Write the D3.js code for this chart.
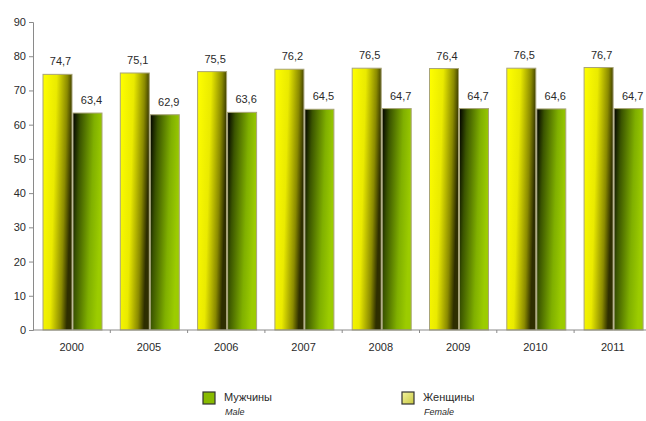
<!DOCTYPE html>
<html>
  <head>
    <meta http-equiv="Content-Type" content="text/html; charset=UTF-8">
    <script src="https://d3js.org/d3.v7.min.js"></script>
    <style type="text/css">
      body { margin: 0; background: #fff; }
      * { font-family: 'Liberation Sans', Arial, sans-serif; }
      text { fill: #2a2a2a; }
    </style>
  </head>
  <body>
    <div id="canvas"></div>
    <script type="text/javascript">
      // chart data
      var years = ['2000', '2005', '2006', '2007', '2008', '2009', '2010', '2011'];
      var female = [74.7, 75.1, 75.5, 76.2, 76.5, 76.4, 76.5, 76.7];
      var male = [63.4, 62.9, 63.6, 64.5, 64.7, 64.7, 64.6, 64.7];
      var yTicks = [0, 10, 20, 30, 40, 50, 60, 70, 80, 90];
      var seriesNames = ['Мужчины', 'Женщины'];
      var seriesSub = ['Male', 'Female'];

      var width = 646, height = 421;
      var mLeft = 33, mTop = 22, mBottom = 330;

      var svg = d3.select('#canvas').append('svg')
        .attr('width', width).attr('height', height);

      var defs = svg.append('defs');
      var fGrad = defs.append('linearGradient').attr('id', 'gFemale')
        .attr('x1', 0).attr('y1', 0).attr('x2', 1).attr('y2', 0.25);
      [[0, '#ffff00'], [0.45, '#eaea00'], [0.8, '#8a8a00'], [1, '#2e2e00']].forEach(function (s) {
        fGrad.append('stop').attr('offset', s[0]).attr('stop-color', s[1]);
      });
      var mGrad = defs.append('linearGradient').attr('id', 'gMale')
        .attr('x1', 0).attr('y1', 0).attr('x2', 1).attr('y2', 0.25);
      [[0, '#000000'], [0.25, '#3a5400'], [0.7, '#80b000'], [1, '#9ccc00']].forEach(function (s) {
        mGrad.append('stop').attr('offset', s[0]).attr('stop-color', s[1]);
      });
      var lgF = defs.append('linearGradient').attr('id', 'lgFemale')
        .attr('x1', 0).attr('y1', 0).attr('x2', 1).attr('y2', 1);
      lgF.append('stop').attr('offset', 0).attr('stop-color', '#f4f4a0');
      lgF.append('stop').attr('offset', 1).attr('stop-color', '#c8c840');

      var step = 77.3;
      var x = d3.scaleBand().domain(years)
        .range([mLeft, mLeft + step * years.length]).paddingInner(0).paddingOuter(0);
      var y = d3.scaleLinear().domain([0, 90]).range([mBottom, mTop]);

      var barW = 29, off = 10;

      // axes
      var yAxis = d3.axisLeft(y).tickValues(yTicks).tickSize(4).tickPadding(3);
      var gy = svg.append('g').attr('transform', 'translate(' + mLeft + ',0)').call(yAxis);
      gy.select('.domain').attr('stroke', '#8a8a8a');
      gy.selectAll('.tick line').attr('stroke', '#8a8a8a');
      gy.selectAll('text').attr('font-size', 11).attr('fill', '#2a2a2a')
        .style('font-family', 'Liberation Sans, Arial, sans-serif');

      // bars
      var g = svg.selectAll('g.cat').data(years).enter().append('g').attr('class', 'cat');
      g.append('rect')
        .attr('x', function (d) { return x(d) + off; })
        .attr('y', function (d, i) { return y(female[i]); })
        .attr('width', barW)
        .attr('height', function (d, i) { return mBottom - y(female[i]); })
        .attr('fill', 'url(#gFemale)')
        .attr('stroke', '#a8a478').attr('stroke-width', 1);
      g.append('rect')
        .attr('x', function (d) { return x(d) + off + barW + 1; })
        .attr('y', function (d, i) { return y(male[i]); })
        .attr('width', barW)
        .attr('height', function (d, i) { return mBottom - y(male[i]); })
        .attr('fill', 'url(#gMale)')
        .attr('stroke', '#a8a478').attr('stroke-width', 1);

      function fmt(v) { return v.toFixed(1).replace('.', ','); }
      g.append('text')
        .attr('x', function (d) { return x(d) + off + barW / 2 + 3; })
        .attr('y', function (d, i) { return y(female[i]) - 9; })
        .attr('text-anchor', 'middle').attr('font-size', 11)
        .text(function (d, i) { return fmt(female[i]); });
      g.append('text')
        .attr('x', function (d) { return x(d) + off + barW * 1.5 + 1 + 4; })
        .attr('y', function (d, i) { return y(male[i]) - 9; })
        .attr('text-anchor', 'middle').attr('font-size', 11)
        .text(function (d, i) { return fmt(male[i]); });

      // x axis
      var gx = svg.append('g');
      gx.append('line').attr('x1', mLeft).attr('x2', width).attr('y1', mBottom).attr('y2', mBottom)
        .attr('stroke', '#8a8a8a');
      gx.selectAll('line.tk').data(years).enter().append('line').attr('class', 'tk')
        .attr('x1', function (d) { return x(d) + x.bandwidth(); })
        .attr('x2', function (d) { return x(d) + x.bandwidth(); })
        .attr('y1', mBottom).attr('y2', mBottom + 3).attr('stroke', '#8a8a8a');
      gx.selectAll('text').data(years).enter().append('text')
        .attr('x', function (d) { return x(d) + x.bandwidth() / 2; })
        .attr('y', 351).attr('text-anchor', 'middle').attr('font-size', 11)
        .text(function (d) { return d; });

      // legend
      var legX = [203, 402];
      var legFill = ['#88bb00', 'url(#lgFemale)'];
      var leg = svg.selectAll('g.leg').data(seriesNames).enter().append('g').attr('class', 'leg');
      leg.append('rect')
        .attr('x', function (d, i) { return legX[i]; }).attr('y', 392)
        .attr('width', 12).attr('height', 12)
        .attr('fill', function (d, i) { return legFill[i]; })
        .attr('stroke', '#333').attr('stroke-width', 1.2);
      leg.append('text')
        .attr('x', function (d, i) { return legX[i] + 21; }).attr('y', 401)
        .attr('font-size', 11).text(function (d) { return d; });
      leg.append('text')
        .attr('x', function (d, i) { return legX[i] + 22; }).attr('y', 415)
        .attr('font-size', 9).attr('font-style', 'italic')
        .text(function (d, i) { return seriesSub[i]; });
    </script>
  </body>
</html>
